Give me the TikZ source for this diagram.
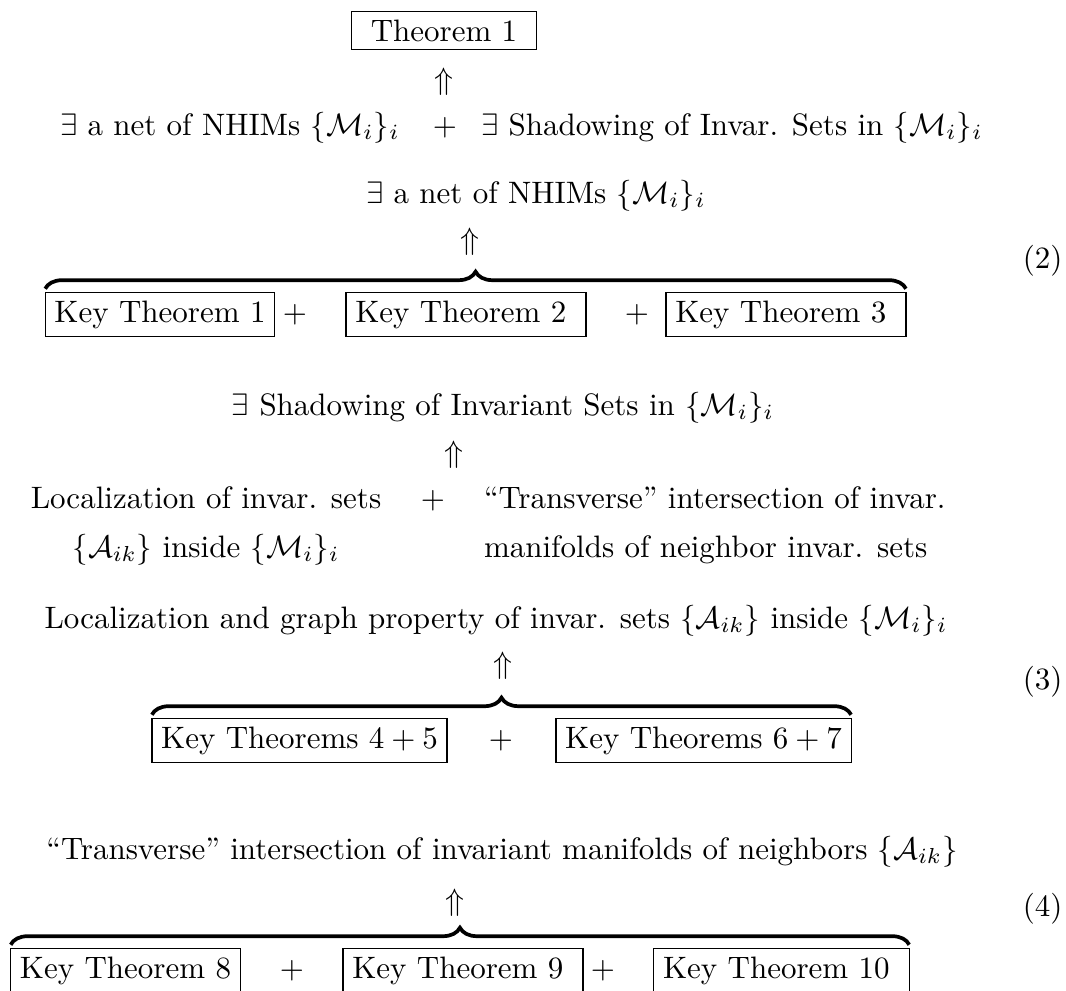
\documentclass[tikz,border=0pt]{standalone}
\usetikzlibrary{decorations.pathreplacing}
\begin{document}
\begin{tikzpicture}[x=0.32258pt, y=-0.32258pt,
  txt/.style={inner sep=0pt, outer sep=0pt},
  kbox/.style={draw, line width=0.4pt, inner xsep=3pt, inner ysep=2.6pt, outer sep=0pt, anchor=base},
  arr/.style={inner sep=0pt},
  ovbrace/.style={decorate, decoration={brace, amplitude=5.5pt}, line width=1.2pt},
  eqno/.style={inner sep=0pt, anchor=base east}]
\useasboundingbox (0,0) rectangle (1066,990);

% top block
\node[kbox] (thm) at (444,41) {\kern3.33pt Theorem 1\kern3.33pt};
\node[arr] (upA) at (444,82) {$\Uparrow$};
\node[txt, anchor=base west] (netA) at (60,135) {$\exists$ a net of NHIMs $\{\mathcal{M}_i\}_i$};
\node[txt, anchor=base] (plusA) at (445,135) {$+$};
\node[txt, anchor=base west] (shadA) at (481,135) {$\exists$ Shadowing of Invar. Sets in $\{\mathcal{M}_i\}_i$};

% equation (2)
\node[txt, anchor=base west] (netB) at (366,203) {$\exists$ a net of NHIMs $\{\mathcal{M}_i\}_i$};
\node[arr] (upB) at (470,242) {$\Uparrow$};
\node[kbox] (k1) at (160,322) {Key Theorem 1};
\node[txt, anchor=base] (p1) at (295,322) {$+$};
\node[kbox] (k2) at (466,322) {Key Theorem 2\kern3.33pt};
\node[txt, anchor=base] (p2) at (637,322) {$+$};
\node[kbox] (k3) at (786,322) {Key Theorem 3\kern3.33pt};
\draw[ovbrace] ([yshift=1.2pt]k1.north west) -- ([yshift=1.2pt]k3.north east);
\node[eqno] (e2) at (1063,268) {(2)};

% shadowing block
\node[txt, anchor=base] (shadB) at (503,415) {$\exists$ Shadowing of Invariant Sets in $\{\mathcal{M}_i\}_i$};
\node[arr] (upC) at (454,455) {$\Uparrow$};
\node[txt, anchor=base] (locA) at (206,508) {Localization of invar. sets};
\node[txt, anchor=base] (locB) at (206,557) {$\{\mathcal{A}_{ik}\}$ inside $\{\mathcal{M}_i\}_i$};
\node[txt, anchor=base] (plusC) at (433,508) {$+$};
\node[txt, anchor=base west] (trA) at (484,508) {“Transverse” intersection of invar.};
\node[txt, anchor=base west] (trB) at (484,557) {manifolds of neighbor invar. sets};

% equation (3)
\node[txt, anchor=base] (locC) at (496,628) {Localization and graph property of invar. sets $\{\mathcal{A}_{ik}\}$ inside $\{\mathcal{M}_i\}_i$};
\node[arr] (upD) at (503,666) {$\Uparrow$};
\node[kbox] (k45) at (299.5,748) {Key Theorems $4+5$};
\node[txt, anchor=base] (p3) at (501,748) {$+$};
\node[kbox] (k67) at (703.5,748) {Key Theorems $6+7$};
\draw[ovbrace] ([yshift=1.2pt]k45.north west) -- ([yshift=1.2pt]k67.north east);
\node[eqno] (e3) at (1063,689) {(3)};

% equation (4)
\node[txt, anchor=base] (trC) at (502,859) {“Transverse” intersection of invariant manifolds of neighbors $\{\mathcal{A}_{ik}\}$};
\node[arr] (upE) at (455,903) {$\Uparrow$};
\node[kbox] (k8) at (125.5,978) {Key Theorem 8};
\node[txt, anchor=base] (p4) at (292,978) {$+$};
\node[kbox] (k9) at (463,978) {Key Theorem 9\kern3.33pt};
\node[txt, anchor=base] (p5) at (603,978) {$+$};
\node[kbox] (k10) at (781.5,978) {Key Theorem 10\kern3.33pt};
\draw[ovbrace] ([yshift=1.2pt]k8.north west) -- ([yshift=1.2pt]k10.north east);
\node[eqno] (e4) at (1063,916) {(4)};
\end{tikzpicture}
\end{document}
